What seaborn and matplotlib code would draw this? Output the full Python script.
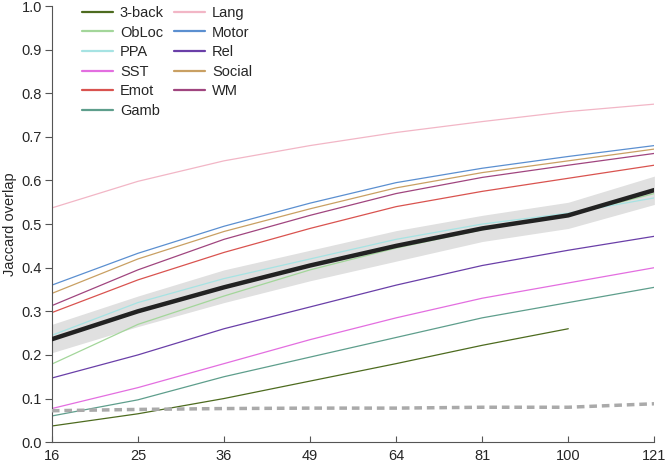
import numpy as np
import pandas as pd
import matplotlib
matplotlib.use("Agg")
import matplotlib.pyplot as plt
import seaborn as sns

# number of subjects (x axis, square-root spaced)
n_sub = [16, 25, 36, 49, 64, 81, 100, 121]

# Jaccard overlap per task
tasks = {
    "3-back": [0.037, 0.065, 0.100, 0.140, 0.180, 0.222, 0.260, np.nan],
    "ObLoc":  [0.179, 0.270, 0.335, 0.395, 0.445, 0.487, 0.520, 0.570],
    "PPA":    [0.245, 0.320, 0.375, 0.420, 0.465, 0.500, 0.525, 0.560],
    "SST":    [0.077, 0.125, 0.180, 0.235, 0.285, 0.330, 0.365, 0.400],
    "Emot":   [0.297, 0.372, 0.435, 0.490, 0.540, 0.575, 0.605, 0.635],
    "Gamb":   [0.060, 0.097, 0.150, 0.195, 0.240, 0.285, 0.320, 0.355],
    "Lang":   [0.537, 0.598, 0.645, 0.680, 0.710, 0.735, 0.758, 0.775],
    "Motor":  [0.360, 0.433, 0.495, 0.548, 0.595, 0.628, 0.655, 0.680],
    "Rel":    [0.147, 0.200, 0.260, 0.310, 0.360, 0.405, 0.440, 0.472],
    "Social": [0.341, 0.420, 0.483, 0.535, 0.583, 0.618, 0.645, 0.672],
    "WM":     [0.313, 0.395, 0.465, 0.520, 0.570, 0.607, 0.635, 0.662],
}
colors = {
    "3-back": "#4d6b1f", "ObLoc": "#a3d69a", "PPA": "#a6e3e3", "SST": "#e36ee0",
    "Emot": "#d9534f", "Gamb": "#5e9e8c", "Lang": "#f2b6c6", "Motor": "#5b8fd0",
    "Rel": "#6a3fa8", "Social": "#c9a063", "WM": "#a0457f",
}

# average across tasks with its spread, and the null (random) overlap
mean_overlap = [0.236, 0.300, 0.355, 0.405, 0.450, 0.490, 0.520, 0.578]
band_low = [0.205, 0.265, 0.320, 0.370, 0.415, 0.460, 0.490, 0.545]
band_high = [0.270, 0.335, 0.395, 0.440, 0.485, 0.520, 0.550, 0.610]
null_overlap = [0.072, 0.075, 0.077, 0.078, 0.078, 0.080, 0.080, 0.088]

rows = []
for task, vals in tasks.items():
    for n, v in zip(n_sub, vals):
        rows.append({"n": n, "overlap": v, "task": task})
df = pd.DataFrame(rows).dropna()

sns.set_style("ticks")
plt.rcParams["font.family"] = ["Liberation Sans", "DejaVu Sans"]

fig = plt.figure(figsize=(6.65, 4.62), dpi=100)
ax = fig.add_axes([0.078, 0.043, 0.906, 0.944])
ax.set_xscale("function", functions=(np.sqrt, np.square))

ax.fill_between(n_sub, band_low, band_high, color="#e0e0e0", lw=0, zorder=1)
sns.lineplot(data=df, x="n", y="overlap", hue="task", palette=colors,
             hue_order=list(tasks.keys()), lw=0.9, ax=ax, zorder=2)
ax.plot(n_sub, null_overlap, color="#aaaaaa", lw=2.5, ls=(0, (2.2, 1.4)), zorder=3)
ax.plot(n_sub, mean_overlap, color="#222222", lw=3.2, zorder=4)

ax.set_xlim(16, 121)
ax.set_ylim(0, 1)
ax.set_xticks(n_sub)
ax.set_xticklabels([str(n) for n in n_sub])
ax.set_yticks(np.arange(0, 1.01, 0.1))
ax.set_yticklabels([f"{v:.1f}" for v in np.arange(0, 1.01, 0.1)])
ax.minorticks_off()
ax.set_xlabel("")
ax.set_ylabel("Jaccard overlap", fontsize=10.5, labelpad=3)
ax.tick_params(axis="x", direction="in", length=4, width=0.8, pad=5,
               labelsize=10.5, color="#555555")
ax.tick_params(axis="y", direction="out", length=5, width=0.8, pad=2,
               labelsize=10.5, color="#555555")
sns.despine(ax=ax)
for s in ["left", "bottom"]:
    ax.spines[s].set_color("#555555")
    ax.spines[s].set_linewidth(0.8)

handles, labels = ax.get_legend_handles_labels()
leg = ax.legend(handles, labels, ncol=2, frameon=False, loc="upper left",
                bbox_to_anchor=(0.05, 1.0), borderaxespad=0, borderpad=0,
                fontsize=10.5, handlelength=2.1, handletextpad=0.5,
                columnspacing=0.7, labelspacing=0.38)
for line in leg.get_lines():
    line.set_linewidth(1.6)

fig.savefig("out.png", dpi=100)
